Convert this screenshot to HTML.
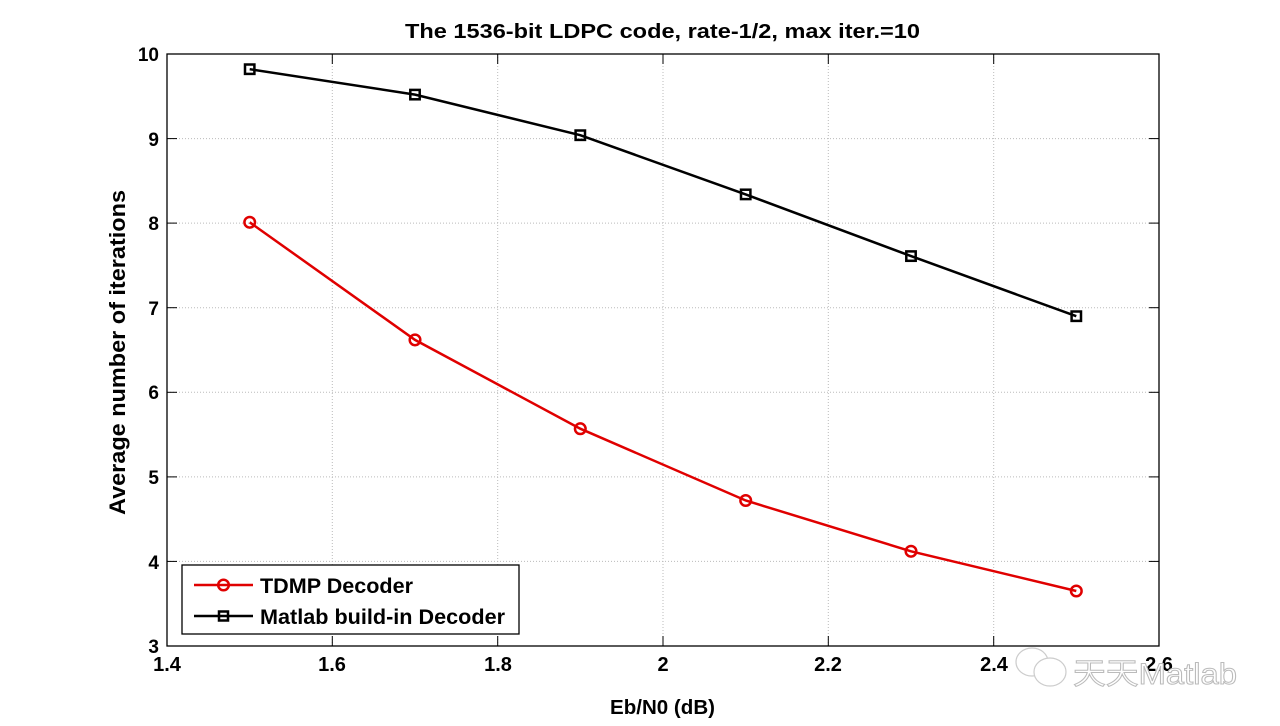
<!DOCTYPE html>
<html><head><meta charset="utf-8"><style>body{margin:0;background:#fff}svg{display:block}</style></head><body>
<svg width="1280" height="726" xmlns="http://www.w3.org/2000/svg" font-family="Liberation Sans, Arial, sans-serif" font-weight="bold">
<rect width="1280" height="726" fill="#fff"/>
<g stroke="#bbb" stroke-width="1" stroke-dasharray="1,2">
<line x1="332.3" y1="54" x2="332.3" y2="646"/><line x1="497.7" y1="54" x2="497.7" y2="646"/><line x1="663" y1="54" x2="663" y2="646"/><line x1="828.3" y1="54" x2="828.3" y2="646"/><line x1="993.7" y1="54" x2="993.7" y2="646"/>
<line x1="167" y1="138.6" x2="1159" y2="138.6"/><line x1="167" y1="223.1" x2="1159" y2="223.1"/><line x1="167" y1="307.7" x2="1159" y2="307.7"/><line x1="167" y1="392.3" x2="1159" y2="392.3"/><line x1="167" y1="476.9" x2="1159" y2="476.9"/><line x1="167" y1="561.4" x2="1159" y2="561.4"/>
</g>
<rect x="167" y="54" width="992" height="592" fill="none" stroke="#000" stroke-width="1.3"/>
<g stroke="#000" stroke-width="1">
<line x1="332.3" y1="646" x2="332.3" y2="636"/><line x1="497.7" y1="646" x2="497.7" y2="636"/><line x1="663" y1="646" x2="663" y2="636"/><line x1="828.3" y1="646" x2="828.3" y2="636"/><line x1="993.7" y1="646" x2="993.7" y2="636"/>
<line x1="332.3" y1="54" x2="332.3" y2="64"/><line x1="497.7" y1="54" x2="497.7" y2="64"/><line x1="663" y1="54" x2="663" y2="64"/><line x1="828.3" y1="54" x2="828.3" y2="64"/><line x1="993.7" y1="54" x2="993.7" y2="64"/>
<line x1="167" y1="138.6" x2="177" y2="138.6"/><line x1="167" y1="223.1" x2="177" y2="223.1"/><line x1="167" y1="307.7" x2="177" y2="307.7"/><line x1="167" y1="392.3" x2="177" y2="392.3"/><line x1="167" y1="476.9" x2="177" y2="476.9"/><line x1="167" y1="561.4" x2="177" y2="561.4"/>
<line x1="1159" y1="138.6" x2="1149" y2="138.6"/><line x1="1159" y1="223.1" x2="1149" y2="223.1"/><line x1="1159" y1="307.7" x2="1149" y2="307.7"/><line x1="1159" y1="392.3" x2="1149" y2="392.3"/><line x1="1159" y1="476.9" x2="1149" y2="476.9"/><line x1="1159" y1="561.4" x2="1149" y2="561.4"/>
</g>
<g font-size="19" text-anchor="end">
<text x="159" y="61">10</text><text x="159" y="146">9</text><text x="159" y="230">8</text><text x="159" y="315">7</text><text x="159" y="399">6</text><text x="159" y="484">5</text><text x="159" y="569">4</text><text x="159" y="653">3</text>
</g>
<g font-size="20" text-anchor="middle">
<text x="167" y="671">1.4</text><text x="332" y="671">1.6</text><text x="498" y="671">1.8</text><text x="663" y="671">2</text><text x="828" y="671">2.2</text><text x="994" y="671">2.4</text><text x="1159" y="671">2.6</text>
</g>
<text x="610" y="714" font-size="20" textLength="105" lengthAdjust="spacingAndGlyphs">Eb/N0 (dB)</text>
<text x="405" y="38" font-size="20" textLength="515" lengthAdjust="spacingAndGlyphs">The 1536-bit LDPC code, rate-1/2, max iter.=10</text>
<text transform="translate(125,515) rotate(-90)" font-size="22" textLength="325" lengthAdjust="spacingAndGlyphs">Average number of iterations</text>
<polyline fill="none" stroke="#000" stroke-width="2.5" points="249.7,69.2 415,94.6 580.3,135.2 745.7,194.4 911,256.1 1076.3,316.2"/>
<g fill="none" stroke="#000" stroke-width="2.5">
<rect x="245" y="64.5" width="9.4" height="9.4"/><rect x="410.3" y="89.9" width="9.4" height="9.4"/><rect x="575.6" y="130.5" width="9.4" height="9.4"/><rect x="741" y="189.7" width="9.4" height="9.4"/><rect x="906.3" y="251.4" width="9.4" height="9.4"/><rect x="1071.6" y="311.5" width="9.4" height="9.4"/>
</g>
<polyline fill="none" stroke="#e00000" stroke-width="2.5" points="249.7,222.3 415,339.9 580.3,428.7 745.7,500.5 911,551.3 1076.3,591"/>
<g fill="none" stroke="#e00000" stroke-width="2.5">
<circle cx="249.7" cy="222.3" r="5.3"/><circle cx="415" cy="339.9" r="5.3"/><circle cx="580.3" cy="428.7" r="5.3"/><circle cx="745.7" cy="500.5" r="5.3"/><circle cx="911" cy="551.3" r="5.3"/><circle cx="1076.3" cy="591" r="5.3"/>
</g>
<rect x="182" y="565" width="337" height="69" fill="#fff" stroke="#000" stroke-width="1.3"/>
<line x1="194" y1="585" x2="253" y2="585" stroke="#e00000" stroke-width="2.5"/>
<circle cx="223.5" cy="585" r="5.3" fill="none" stroke="#e00000" stroke-width="2.5"/>
<line x1="194" y1="616" x2="253" y2="616" stroke="#000" stroke-width="2.5"/>
<rect x="219" y="611.5" width="9" height="9" fill="none" stroke="#000" stroke-width="2.5"/>
<text x="260" y="593" font-size="21" textLength="153" lengthAdjust="spacingAndGlyphs">TDMP Decoder</text>
<text x="260" y="624" font-size="21" textLength="245" lengthAdjust="spacingAndGlyphs">Matlab build-in Decoder</text>
<g fill="none" stroke="#ccc" stroke-width="1.2">
<ellipse cx="1032" cy="662" rx="16" ry="14"/><ellipse cx="1050" cy="672" rx="16" ry="14" fill="#fff"/>
</g>
<text x="1073" y="684" font-size="30" font-weight="normal" fill="#fff" stroke="#bbb" stroke-width="1" textLength="164" lengthAdjust="spacingAndGlyphs" font-family="Liberation Sans, Noto Sans CJK SC, sans-serif">天天Matlab</text>
</svg>
</body></html>
